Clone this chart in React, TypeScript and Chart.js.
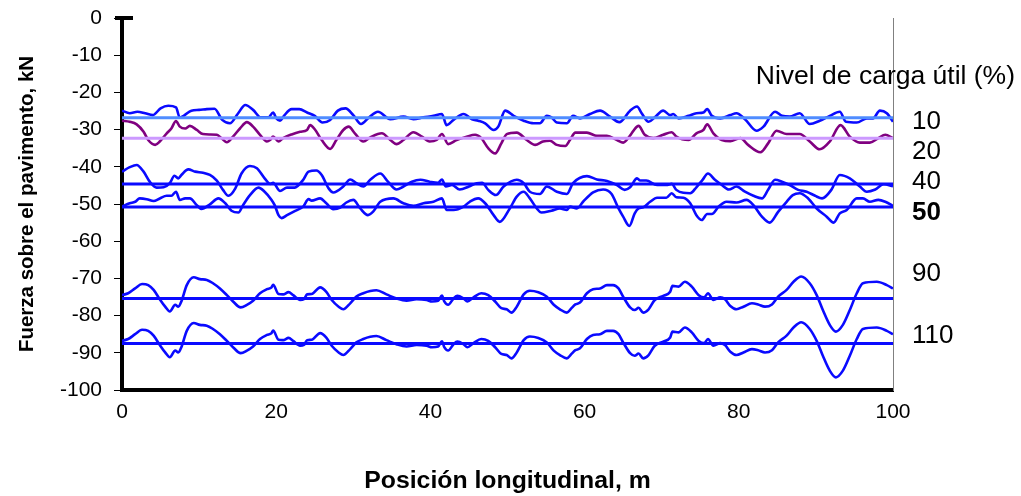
import { useEffect, useRef } from "react";
import { Chart, registerables } from "chart.js";

Chart.register(...registerables);

// ---------- data ----------
const xTickStep = 20;
const yTickStep = 10;

const load10: [number, number][] = [
  [0, -24.9], [1, -25.6], [2, -25.2], [3, -25.6], [4, -26.1], [5, -24.3], [6, -23.6], [7, -24.0],
  [7.5, -26.8], [8, -26.3], [9, -24.9], [10, -24.7], [11, -24.5], [12, -24.4], [13, -27.4], [14, -28.3],
  [15, -25.8], [16, -23.4], [17, -24.7], [18, -26.7], [19, -26.7], [19.6, -25.4], [20, -26.9], [20.5, -27.6],
  [21, -26.3], [22, -24.5], [23, -24.5], [24, -25.4], [25, -26.3], [26, -28.1], [27, -27.4], [28, -24.9],
  [29, -24.3], [30, -26.1], [31, -28.5], [32, -26.8], [33.2, -25.2], [34.8, -27.2], [36.5, -26.5], [37.8, -27.2],
  [39.1, -26.7], [40.4, -26.3], [41.5, -25.8], [42.1, -28.8], [43.0, -27.4], [44.3, -25.8], [45.4, -27.2],
  [46.2, -27.6], [47.1, -28.3], [48.2, -30.1], [48.8, -29.2], [49.7, -24.9], [50.8, -26.3], [52.1, -27.6],
  [53.4, -28.3], [54.2, -28.3], [55.1, -26.3], [55.7, -26.7], [56.4, -28.1], [57.7, -28.3], [58.5, -26.3],
  [59.4, -27.0], [60.7, -25.8], [62.0, -24.9], [63.3, -26.5], [64.5, -28.0], [65.9, -24.9], [66.8, -23.8],
  [67.4, -25.6], [68.3, -27.9], [69.1, -26.7], [70.2, -24.9], [71.1, -26.1], [71.5, -25.8], [72.2, -27.0],
  [73.5, -26.3], [74.5, -25.6], [75.4, -25.4], [75.9, -24.5], [76.5, -26.3], [77.6, -27.0], [78.9, -26.1],
  [79.7, -25.6], [80.8, -27.2], [82.3, -30.3], [83.2, -29.2], [84.7, -25.2], [85.6, -26.3], [86.6, -26.5],
  [87.9, -25.6], [89.2, -28.5], [90.5, -27.6], [91.8, -26.3], [93.1, -25.2], [93.9, -27.9], [95.3, -28.1],
  [96.6, -27.0], [97.4, -27.0], [98.3, -24.9], [99.2, -25.6], [100, -27.9],
];

const load20: [number, number][] = [
  [0, -27.6], [1.0, -27.9], [1.9, -28.6], [2.8, -30.6], [3.4, -32.8], [4.3, -34.1], [4.9, -33.2], [5.8, -31.0],
  [6.4, -29.7], [7.0, -27.7], [7.5, -29.2], [8.2, -29.7], [8.8, -29.0], [9.7, -30.1], [10.5, -31.2], [11.4, -31.3],
  [12.3, -31.4], [12.9, -32.3], [13.6, -33.4], [14.4, -31.9], [15.3, -29.7], [16.2, -28.0], [17.0, -29.2],
  [17.9, -31.4], [18.8, -33.2], [19.2, -32.8], [19.6, -31.9], [20.3, -33.2], [20.9, -32.3], [22.0, -31.3],
  [23.1, -30.6], [24.0, -30.1], [24.4, -28.8], [25.0, -29.9], [25.9, -32.8], [27.0, -35.2], [27.8, -32.8],
  [28.7, -30.1], [29.4, -29.2], [30.2, -31.0], [31.3, -33.2], [32.2, -32.1], [33.7, -31.0], [34.8, -32.8],
  [35.6, -33.9], [36.5, -32.8], [37.8, -30.7], [38.9, -31.9], [39.9, -33.2], [40.8, -32.8], [41.5, -31.2],
  [42.3, -33.9], [43.4, -32.8], [44.7, -31.9], [45.8, -31.4], [46.6, -32.3], [47.5, -35.0], [48.4, -36.4],
  [49.2, -33.7], [49.9, -31.2], [51.2, -30.8], [52.5, -32.8], [53.6, -34.1], [54.6, -33.2], [55.5, -33.0],
  [56.4, -34.1], [57.5, -34.4], [58.1, -32.8], [58.8, -30.8], [60.3, -30.8], [61.6, -31.7], [62.9, -31.7],
  [64.2, -32.8], [65.0, -33.5], [65.9, -31.6], [66.3, -30.4], [67.0, -29.0], [67.8, -31.4], [68.9, -32.3],
  [70.2, -31.4], [71.3, -30.7], [71.9, -31.9], [73.5, -32.8], [74.5, -31.0], [75.4, -30.1], [75.9, -28.6],
  [76.7, -31.0], [77.8, -32.8], [78.9, -33.1], [80.2, -32.3], [81.2, -34.1], [82.8, -36.1], [83.8, -33.7],
  [84.9, -30.3], [86.2, -31.2], [87.9, -31.2], [89.2, -33.2], [90.5, -35.3], [91.8, -33.2], [93.2, -28.8],
  [94.4, -31.9], [95.7, -33.5], [97.0, -33.5], [98.1, -32.3], [99.0, -31.4], [100, -32.3],
];

const load40: [number, number][] = [
  [0, -41.3], [1.0, -40.1], [1.9, -39.5], [2.8, -41.3], [3.6, -44.0], [4.5, -45.6], [5.4, -45.5], [6.2, -44.4],
  [6.8, -42.4], [7.3, -43.1], [7.7, -42.2], [8.6, -40.7], [9.5, -41.3], [10.5, -41.6], [11.4, -42.2],
  [12.3, -43.7], [13.1, -46.2], [13.8, -47.8], [14.7, -45.8], [15.5, -41.8], [16.6, -39.8], [17.5, -40.4],
  [18.5, -43.1], [19.2, -44.6], [19.6, -44.3], [20.5, -46.5], [21.4, -45.6], [22.4, -45.6], [23.5, -43.5],
  [24.2, -41.3], [25.2, -41.0], [25.9, -42.2], [26.8, -45.8], [27.4, -46.9], [28.7, -45.3], [29.6, -43.4],
  [30.4, -44.4], [31.3, -45.3], [32.2, -43.5], [33.5, -41.8], [34.5, -44.0], [35.6, -46.1], [36.5, -45.3],
  [37.6, -44.0], [38.7, -43.5], [39.9, -44.0], [41.0, -44.3], [41.5, -43.4], [42.0, -45.3], [42.8, -44.9],
  [43.8, -46.1], [45.0, -45.3], [46.0, -44.4], [46.7, -44.3], [47.5, -46.2], [48.5, -47.6], [49.5, -45.3],
  [51.2, -43.5], [52.1, -44.4], [52.9, -46.7], [54.2, -47.3], [55.1, -45.3], [56.4, -46.7], [57.7, -47.3],
  [58.5, -44.4], [60.3, -42.5], [61.6, -43.4], [62.9, -43.8], [64.2, -44.9], [65.2, -46.2], [65.9, -45.5],
  [66.8, -43.1], [67.2, -43.7], [68.0, -43.7], [69.4, -44.9], [70.6, -44.9], [71.3, -44.6], [71.9, -46.2],
  [72.8, -47.0], [73.7, -47.1], [74.5, -45.5], [75.3, -43.5], [76.0, -41.8], [76.9, -43.5], [77.8, -44.9],
  [78.7, -46.1], [79.7, -45.3], [80.8, -46.7], [81.9, -47.8], [83.0, -48.5], [83.8, -46.2], [84.7, -43.5],
  [85.6, -44.0], [86.6, -44.9], [87.7, -46.2], [88.8, -46.7], [89.9, -47.8], [90.8, -48.5], [92.0, -46.2],
  [93.1, -42.2], [94.4, -43.1], [95.7, -45.3], [96.6, -46.7], [97.7, -46.1], [98.8, -44.7], [100, -45.2],
];

const load50: [number, number][] = [
  [0, -50.7], [1.0, -49.8], [1.7, -49.4], [2.3, -48.5], [3.2, -48.7], [4.1, -49.2], [4.9, -48.5], [5.8, -47.8],
  [6.4, -47.8], [7.0, -46.7], [7.5, -48.9], [8.2, -48.5], [8.8, -48.5], [9.7, -50.3], [10.3, -51.3],
  [11.4, -50.1], [12.5, -48.5], [13.4, -49.8], [14.2, -51.8], [15.1, -52.3], [15.7, -50.3], [16.6, -47.6],
  [17.7, -45.6], [18.5, -46.7], [19.4, -48.9], [19.8, -50.3], [20.3, -53.0], [20.7, -53.8], [21.4, -53.0],
  [22.4, -51.9], [23.5, -50.7], [24.2, -48.7], [24.6, -49.1], [25.7, -48.5], [26.5, -49.8], [27.4, -51.4],
  [28.3, -51.0], [29.1, -49.6], [30.0, -48.9], [30.9, -51.2], [31.9, -53.0], [32.6, -52.0], [33.5, -49.4],
  [35.2, -48.5], [36.5, -49.8], [37.8, -50.5], [39.1, -49.8], [40.4, -49.4], [41.5, -48.5], [42.1, -51.6],
  [43.0, -51.6], [44.3, -50.7], [45.1, -49.4], [46.2, -48.5], [47.1, -49.8], [48.2, -53.0], [49.0, -54.8],
  [50.3, -51.2], [51.2, -48.0], [52.1, -46.7], [52.9, -48.5], [53.8, -51.2], [54.4, -52.3], [55.7, -51.8],
  [56.8, -51.2], [57.7, -51.6], [58.1, -50.7], [59.0, -51.2], [59.8, -49.4], [61.1, -46.9], [62.4, -46.1],
  [63.5, -47.3], [64.4, -51.2], [65.0, -53.4], [65.8, -55.9], [66.5, -52.5], [67.0, -51.2], [67.6, -50.9],
  [68.5, -49.4], [69.4, -48.3], [70.6, -48.3], [71.3, -47.1], [71.9, -48.2], [72.8, -48.3], [73.7, -49.8],
  [74.5, -53.0], [75.2, -54.3], [75.9, -52.7], [76.5, -52.7], [77.4, -50.7], [78.4, -49.4], [79.7, -49.6],
  [81.0, -48.9], [81.9, -50.3], [83.0, -53.4], [84.0, -55.0], [85.1, -52.1], [86.2, -49.4], [87.0, -47.6],
  [87.9, -47.1], [89.0, -48.5], [90.1, -51.2], [91.4, -53.4], [92.3, -55.0], [93.1, -52.5], [94.0, -51.6],
  [95.3, -48.5], [96.1, -48.5], [97.0, -49.4], [98.1, -48.9], [99.0, -49.4], [100, -50.5],
];

const load90: [number, number][] = [
  [0, -74.5], [0.8, -74.0], [1.7, -72.7], [2.6, -71.5], [3.4, -71.8], [4.1, -73.1], [4.9, -75.6], [5.6, -77.6],
  [6.2, -78.9], [6.9, -77.1], [7.3, -77.6], [7.7, -76.2], [8.4, -71.8], [9.3, -69.7], [10.1, -70.2],
  [11.0, -70.4], [11.8, -71.3], [12.7, -72.7], [13.6, -74.5], [14.4, -76.2], [15.4, -77.8], [16.2, -77.1],
  [17.0, -76.0], [17.9, -74.0], [18.8, -72.9], [19.4, -72.4], [19.6, -71.7], [20.3, -74.2], [20.9, -74.3],
  [21.6, -73.7], [22.2, -74.5], [23.1, -75.8], [23.6, -75.6], [24.0, -74.3], [24.6, -74.2], [25.7, -72.4],
  [26.5, -73.6], [27.2, -75.8], [28.1, -77.6], [28.7, -78.3], [29.6, -76.7], [30.4, -74.9], [31.3, -74.0],
  [32.2, -73.4], [33.0, -73.2], [34.3, -74.3], [35.6, -75.4], [36.9, -76.0], [38.2, -75.6], [39.5, -75.8],
  [40.2, -76.2], [41.0, -76.0], [41.5, -74.6], [41.8, -76.2], [42.3, -77.1], [43.0, -75.4], [43.5, -74.7],
  [44.3, -75.4], [44.8, -76.2], [45.6, -75.1], [46.6, -74.0], [47.5, -74.5], [48.4, -76.2], [49.2, -78.0],
  [49.9, -78.3], [50.5, -79.2], [51.2, -77.6], [52.1, -74.3], [52.9, -73.3], [54.0, -73.7], [55.1, -74.9],
  [56.0, -77.1], [56.8, -78.3], [57.7, -79.2], [58.3, -78.0], [58.8, -77.0], [59.4, -76.5], [60.3, -74.0],
  [61.1, -72.9], [62.0, -72.7], [62.9, -71.8], [63.7, -71.8], [64.4, -72.7], [65.0, -74.9], [65.9, -77.8],
  [66.5, -78.5], [67.0, -77.9], [67.6, -79.2], [68.3, -78.3], [69.1, -75.8], [70.2, -74.7], [71.1, -73.6],
  [71.4, -72.0], [72.2, -72.2], [73.0, -70.9], [73.9, -72.2], [74.8, -74.5], [75.5, -75.1], [76.0, -74.0],
  [76.7, -75.8], [77.6, -75.1], [78.2, -75.6], [78.9, -77.4], [79.7, -78.3], [80.6, -77.6], [81.7, -76.7],
  [82.5, -77.0], [83.4, -77.6], [84.3, -77.0], [85.1, -74.9], [86.2, -73.1], [87.1, -70.9], [88.1, -69.5],
  [89.2, -71.3], [90.1, -74.5], [90.9, -78.5], [91.8, -82.5], [92.6, -84.3], [93.5, -82.5], [94.4, -78.5],
  [95.3, -74.0], [96.1, -71.3], [97.9, -70.9], [99.2, -71.8], [100, -72.7],
];

const load110: [number, number][] = [
  [0, -86.8], [0.8, -86.3], [1.7, -85.0], [2.6, -83.8], [3.4, -84.1], [4.1, -85.4], [4.9, -87.9], [5.6, -89.9],
  [6.2, -91.2], [6.9, -89.4], [7.3, -89.9], [7.7, -88.5], [8.4, -84.1], [9.3, -82.0], [10.1, -82.5],
  [11.0, -82.7], [11.8, -83.6], [12.7, -85.0], [13.6, -86.8], [14.4, -88.5], [15.4, -90.1], [16.2, -89.4],
  [17.0, -88.3], [17.9, -86.3], [18.8, -85.2], [19.4, -84.7], [19.6, -84.0], [20.3, -86.5], [20.9, -86.6],
  [21.6, -86.0], [22.2, -86.8], [23.1, -88.1], [23.6, -87.9], [24.0, -86.6], [24.6, -86.5], [25.7, -84.7],
  [26.5, -85.9], [27.2, -88.1], [28.1, -89.9], [28.7, -90.6], [29.6, -89.0], [30.4, -87.2], [31.3, -86.3],
  [32.2, -85.7], [33.0, -85.5], [34.3, -86.6], [35.6, -87.7], [36.9, -88.3], [38.2, -87.9], [39.5, -88.1],
  [40.2, -88.5], [41.0, -88.3], [41.5, -86.9], [41.8, -88.5], [42.3, -89.4], [43.0, -87.7], [43.5, -87.0],
  [44.3, -87.7], [44.8, -88.5], [45.6, -87.4], [46.6, -86.3], [47.5, -86.8], [48.4, -88.5], [49.2, -90.3],
  [49.9, -90.6], [50.5, -91.5], [51.2, -89.9], [52.1, -86.6], [52.9, -85.6], [54.0, -86.0], [55.1, -87.2],
  [56.0, -89.4], [56.8, -90.6], [57.7, -91.5], [58.3, -90.3], [58.8, -89.3], [59.4, -88.8], [60.3, -86.3],
  [61.1, -85.2], [62.0, -85.0], [62.9, -84.1], [63.7, -84.1], [64.4, -85.0], [65.0, -87.2], [65.9, -90.1],
  [66.5, -90.8], [67.0, -90.2], [67.6, -91.5], [68.3, -90.6], [69.1, -88.1], [70.2, -87.0], [71.1, -85.9],
  [71.4, -84.3], [72.2, -84.5], [73.0, -83.2], [73.9, -84.5], [74.8, -86.8], [75.5, -87.4], [76.0, -86.3],
  [76.7, -88.1], [77.6, -87.4], [78.2, -87.9], [78.9, -89.7], [79.7, -90.6], [80.6, -89.9], [81.7, -89.0],
  [82.5, -89.3], [83.4, -89.9], [84.3, -89.3], [85.1, -87.2], [86.2, -85.4], [87.1, -83.2], [88.1, -81.8],
  [89.2, -83.6], [90.1, -86.8], [90.9, -90.8], [91.8, -94.8], [92.6, -96.6], [93.5, -94.8], [94.4, -90.8],
  [95.3, -86.3], [96.1, -83.6], [97.9, -83.2], [99.2, -84.1], [100, -85.0],
];

// mean levels of each series
const loadLevels = ["10", "20", "40", "50", "90", "110"];
const meanValues = [-26.8, -32.3, -44.6, -50.8, -75.4, -87.5];
// where each level label sits (value units on the y axis)
const labelValues = [-28.0, -36.0, -44.0, -52.4, -68.9, -85.5];
const boldLabel = "50";

const waveSeries = [load10, load20, load40, load50, load90, load110];
const waveColors = ["#0a0aff", "#800080", "#0a0aff", "#0a0aff", "#0a0aff", "#0a0aff"];
const meanColors = ["#4f8cff", "#cc99ff", "#0a0aff", "#0a0aff", "#0a0aff", "#0a0aff"];

const FONT = "'Liberation Sans', Arial, Helvetica, sans-serif";

export default function App() {
  const ref = useRef<HTMLCanvasElement | null>(null);

  useEffect(() => {
    document.body.style.margin = "0";
    const canvas = ref.current;
    if (!canvas) return;

    const datasets: any[] = [];
    waveSeries.forEach((s, i) => {
      datasets.push({
        label: "w" + loadLevels[i],
        data: s.map(([x, y]) => ({ x, y })),
        borderColor: waveColors[i],
        borderWidth: 2.6,
        pointRadius: 0,
        cubicInterpolationMode: "monotone",
        fill: false,
        order: 2,
      });
    });
    meanValues.forEach((m, i) => {
      datasets.push({
        label: "m" + loadLevels[i],
        data: [
          { x: 0, y: m },
          { x: 100, y: m },
        ],
        borderColor: meanColors[i],
        borderWidth: 3,
        pointRadius: 0,
        fill: false,
        order: 1,
      });
    });

    const annot = {
      id: "annot",
      afterDraw(chart: any) {
        const { ctx, chartArea, scales } = chart;
        ctx.save();
        // short heavy cap at the top of the value axis
        ctx.fillStyle = "#000";
        ctx.fillRect(chartArea.left - 7, chartArea.top - 2, 18, 4);
        // heading
        ctx.fillStyle = "#000";
        ctx.textBaseline = "middle";
        ctx.textAlign = "right";
        ctx.font = `26.5px ${FONT}`;
        ctx.fillText("Nivel de carga útil (%)", chart.width - 6, chartArea.top + 59);
        ctx.textAlign = "left";
        loadLevels.forEach((lv, i) => {
          ctx.font = `${lv === boldLabel ? "bold " : ""}26px ${FONT}`;
          ctx.fillText(lv, chartArea.right + 19, scales.y.getPixelForValue(labelValues[i]));
        });
        ctx.restore();
      },
    };

    const chart = new Chart(canvas, {
      type: "line",
      data: { datasets },
      plugins: [annot],
      options: {
        responsive: false,
        animation: false,
        devicePixelRatio: 1,
        layout: { padding: { left: 0, top: 18, right: 128, bottom: 0 } },
        plugins: { legend: { display: false }, tooltip: { enabled: false } },
        scales: {
          x: {
            type: "linear",
            min: 0,
            max: 100,
            ticks: { stepSize: xTickStep, color: "#000", font: { family: FONT, size: 21 }, padding: 2, maxRotation: 0 },
            grid: { display: false },
            border: { display: true, width: 4, color: "#000" },
            title: {
              display: true,
              text: "Posición longitudinal, m",
              color: "#000",
              font: { family: FONT, size: 24.8, weight: "bold" },
              padding: { top: 0, bottom: 0 },
            },
            afterFit: (s: any) => {
              s.height = 106;
            },
          },
          y: {
            type: "linear",
            min: -100,
            max: 0,
            ticks: { stepSize: yTickStep, color: "#000", font: { family: FONT, size: 21 }, padding: 12 },
            grid: { drawOnChartArea: false, drawTicks: true, tickLength: 8, color: "#000", lineWidth: 1 },
            border: { display: true, width: 4, color: "#000" },
            title: {
              display: true,
              text: "Fuerza sobre el pavimento, kN",
              color: "#000",
              font: { family: FONT, size: 20.5, weight: "bold" },
              padding: { top: 15.5, bottom: 0 },
            },
            afterFit: (s: any) => {
              s.width = 122;
              s.paddingTop = 0;
              s.paddingBottom = 0;
            },
          },
          y2: {
            type: "linear",
            position: "right",
            min: -100,
            max: 0,
            ticks: { display: false },
            grid: { display: false },
            border: { display: true, width: 1, color: "#808080" },
            afterFit: (s: any) => {
              s.width = 0;
              s.paddingTop = 0;
              s.paddingBottom = 0;
            },
          },
        },
      } as any,
    });

    return () => chart.destroy();
  }, []);

  return (
    <div style={{ width: 1021, height: 496 }}>
      <canvas ref={ref} width={1021} height={496} style={{ display: "block", width: 1021, height: 496 }} />
    </div>
  );
}
